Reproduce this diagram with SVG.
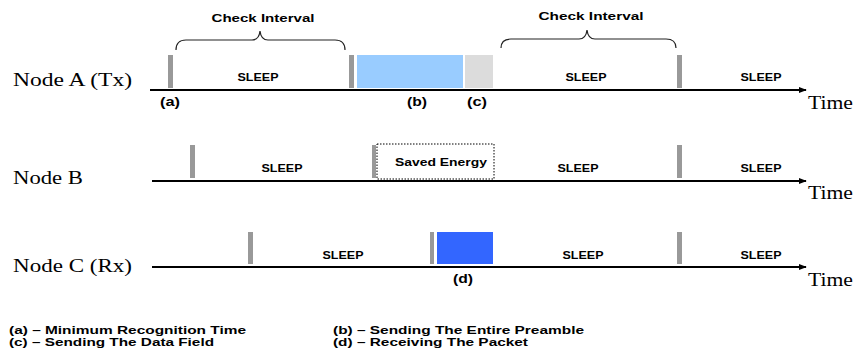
<svg xmlns="http://www.w3.org/2000/svg" width="857" height="362" viewBox="0 0 857 362">
<defs>
<marker id="arr" viewBox="0 0 10 10" refX="9" refY="5" markerWidth="8" markerHeight="8" markerUnits="userSpaceOnUse" orient="auto"><path d="M0,1 L10,5 L0,9 z" fill="#000"/></marker>
<style>
.axis{stroke:#000;stroke-width:2;fill:none}
.bar{fill:#999999}
.lbl{font-family:"Liberation Serif",serif;font-size:18px;fill:#000}
.sl{font-family:"Liberation Sans",Arial,sans-serif;font-size:10px;font-weight:bold;fill:#000;text-anchor:middle}
.ci{font-family:"Liberation Sans",Arial,sans-serif;font-size:11.5px;font-weight:bold;fill:#000;text-anchor:middle}
.tag{font-family:"Liberation Sans",Arial,sans-serif;font-size:12px;font-weight:bold;fill:#000;text-anchor:middle}
.leg{font-family:"Liberation Sans",Arial,sans-serif;font-size:11.5px;font-weight:bold;fill:#000}
.brace{stroke:#222;stroke-width:1.2;fill:none}
</style>
</defs>
<rect width="857" height="362" fill="#fff"/>
<g id="connectors">
<line class="axis" x1="150" y1="90" x2="806" y2="90" marker-end="url(#arr)"/>
<line class="axis" x1="152" y1="181" x2="806" y2="181" marker-end="url(#arr)"/>
<line class="axis" x1="152" y1="267" x2="806" y2="267" marker-end="url(#arr)"/>
<path class="brace" d="M176,50 Q176,40 186,40 L252,40 Q259,40 260,31 Q261,40 268,40 L335,40 Q345,40 345,50"/>
<path class="brace" d="M501,48 Q501,39 511,39 L579,39 Q586,39 587,30 Q588,39 595,39 L666,39 Q676,39 676,48"/>
</g>
<g id="labels">
<text class="lbl" x="13" y="86" textLength="119" lengthAdjust="spacingAndGlyphs">Node A (Tx)</text>
<text class="lbl" x="13" y="184" textLength="70" lengthAdjust="spacingAndGlyphs">Node B</text>
<text class="lbl" x="13" y="272" textLength="119" lengthAdjust="spacingAndGlyphs">Node C (Rx)</text>
<text class="lbl" x="808" y="109" textLength="45" lengthAdjust="spacingAndGlyphs">Time</text>
<text class="lbl" x="808" y="199" textLength="45" lengthAdjust="spacingAndGlyphs">Time</text>
<text class="lbl" x="808" y="286" textLength="45" lengthAdjust="spacingAndGlyphs">Time</text>
<text class="ci" x="263" y="22" textLength="103" lengthAdjust="spacingAndGlyphs">Check Interval</text>
<text class="ci" x="591" y="20" textLength="105" lengthAdjust="spacingAndGlyphs">Check Interval</text>
</g>
<g id="nodeA">
<rect class="bar" x="168" y="55" width="5" height="33"/>
<rect class="bar" x="349" y="55" width="5" height="33"/>
<rect x="357" y="55" width="106" height="33" fill="#99ccff"/>
<rect x="465" y="55" width="28" height="33" fill="#dcdcdc"/>
<rect class="bar" x="677" y="55" width="5" height="33"/>
<text class="sl" x="258" y="81" textLength="41" lengthAdjust="spacingAndGlyphs">SLEEP</text>
<text class="sl" x="586" y="81" textLength="41" lengthAdjust="spacingAndGlyphs">SLEEP</text>
<text class="sl" x="761" y="81" textLength="41" lengthAdjust="spacingAndGlyphs">SLEEP</text>
<text class="tag" x="170" y="106" textLength="20" lengthAdjust="spacingAndGlyphs">(a)</text>
<text class="tag" x="417" y="106" textLength="20" lengthAdjust="spacingAndGlyphs">(b)</text>
<text class="tag" x="477" y="106" textLength="20" lengthAdjust="spacingAndGlyphs">(c)</text>
</g>
<g id="nodeB">
<rect class="bar" x="190" y="145" width="5" height="33"/>
<rect class="bar" x="372" y="145" width="4" height="33"/>
<rect x="377" y="144" width="117" height="35" fill="#fff" stroke="#000" stroke-width="1" stroke-dasharray="1.5,1.5"/>
<text class="sl" x="441" y="166" style="font-size:10.7px" textLength="92" lengthAdjust="spacingAndGlyphs">Saved Energy</text>
<text class="sl" x="282" y="172" textLength="41" lengthAdjust="spacingAndGlyphs">SLEEP</text>
<text class="sl" x="578" y="172" textLength="41" lengthAdjust="spacingAndGlyphs">SLEEP</text>
<rect class="bar" x="677" y="145" width="5" height="33"/>
<text class="sl" x="761" y="172" textLength="41" lengthAdjust="spacingAndGlyphs">SLEEP</text>
</g>
<g id="nodeC">
<rect class="bar" x="248" y="232" width="5" height="32"/>
<rect class="bar" x="430" y="232" width="4" height="32"/>
<rect x="437" y="232" width="56" height="32" fill="#3366ff"/>
<rect class="bar" x="677" y="232" width="5" height="32"/>
<text class="sl" x="343" y="259" textLength="41" lengthAdjust="spacingAndGlyphs">SLEEP</text>
<text class="sl" x="583" y="259" textLength="41" lengthAdjust="spacingAndGlyphs">SLEEP</text>
<text class="sl" x="761" y="259" textLength="41" lengthAdjust="spacingAndGlyphs">SLEEP</text>
<text class="tag" x="463" y="283" textLength="20" lengthAdjust="spacingAndGlyphs">(d)</text>
</g>
<g id="legend">
<text class="leg" x="9" y="334" textLength="237" lengthAdjust="spacingAndGlyphs">(a) – Minimum Recognition Time</text>
<text class="leg" x="9" y="346" textLength="205" lengthAdjust="spacingAndGlyphs">(c) – Sending The Data Field</text>
<text class="leg" x="333" y="334" textLength="251" lengthAdjust="spacingAndGlyphs">(b) – Sending The Entire Preamble</text>
<text class="leg" x="333" y="346" textLength="195" lengthAdjust="spacingAndGlyphs">(d) – Receiving The Packet</text>
</g>
</svg>
